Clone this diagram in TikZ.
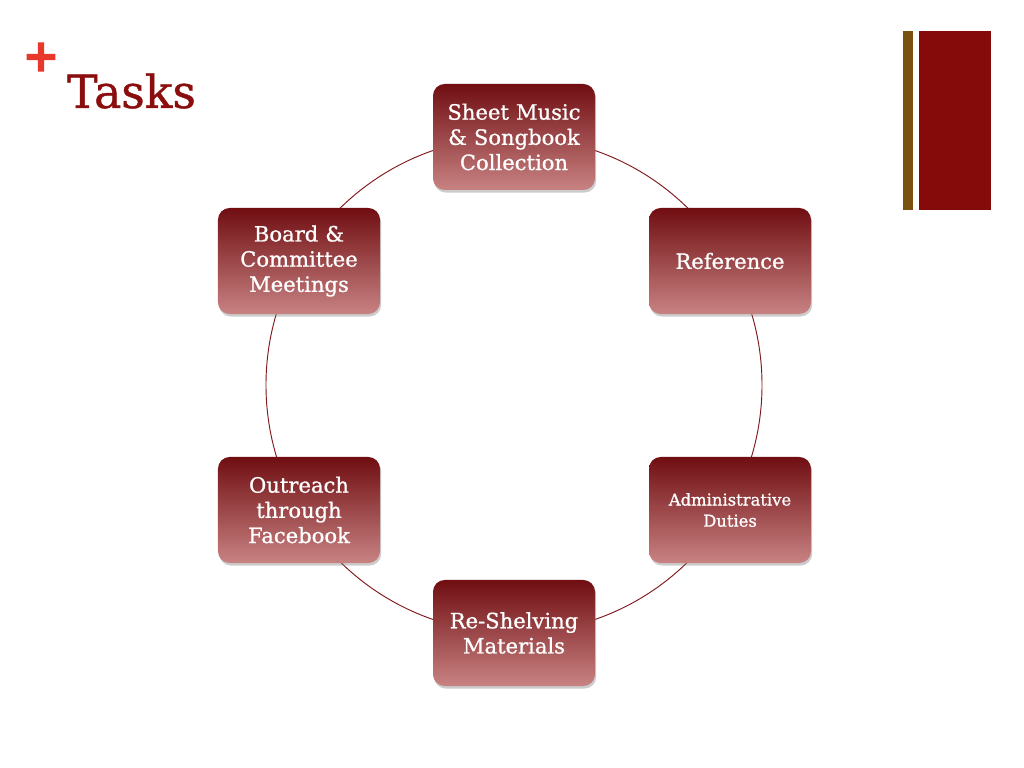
\documentclass[tikz,border=0pt]{standalone}
\usepackage{fontspec}
\setmainfont{DejaVu Serif}
\newfontfamily\slabfont[FakeBold=0.9]{DejaVu Serif}
\newfontfamily\plusfont[FakeBold=2.5]{DejaVu Sans Bold}
\usetikzlibrary{shadows}
\definecolor{taskred}{RGB}{139, 14, 14}
\definecolor{plusred}{RGB}{232, 56, 44}
\definecolor{barbrown}{RGB}{122, 82, 16}
\definecolor{barred}{RGB}{133, 10, 10}
\definecolor{boxtop}{RGB}{112, 14, 18}
\definecolor{boxbottom}{RGB}{200, 130, 130}
\definecolor{ringred}{RGB}{128, 24, 28}

\begin{document}
\begin{tikzpicture}[x=0.03cm, y=-0.03cm,
  task/.style={rounded corners=10pt, minimum width=4.86cm, minimum height=3.18cm, align=center, text width=4.7cm, inner sep=0pt, top color=boxtop, bottom color=boxbottom, text=white, font=\slabfont\fontsize{18}{21.5}\selectfont, drop shadow={shadow xshift=1pt, shadow yshift=-2.2pt, opacity=0.4}},
  ring/.style={draw=ringred, line width=0.8pt}
]
  \fill[white] (0,0) rectangle (1024,768);
  \useasboundingbox (0,0) rectangle (1024,768);

  % heading
  \node[text=plusred, font=\plusfont\fontsize{38}{38}\selectfont] (plus) at (41,57) {+};
  \node[anchor=base west, text=taskred, font=\slabfont\fontsize{39}{42}\selectfont] (title) at (63,108) {Tasks};

  % corner bars
  \fill[barbrown] (903,31) rectangle (913,210);
  \fill[barred] (919,31) rectangle (991,210);

  % ring behind the tasks
  \coordinate (hub) at (514,385);
  \draw[ring] (hub) circle (7.44cm);

  \node[task] (sheet) at (514,137) {Sheet Music\\ \& Songbook\\ Collection};
  \node[task] (ref) at (730,261) {Reference};
  \node[task, font=\slabfont\fontsize{14}{18}\selectfont] (admin) at (730,510) {Administrative\\ Duties};
  \node[task] (shelve) at (514,633) {Re-Shelving\\ Materials};
  \node[task] (outreach) at (299,510) {Outreach\\ through\\ Facebook};
  \node[task] (board) at (299,261) {Board \&\\ Committee\\ Meetings};
\end{tikzpicture}
\end{document}
